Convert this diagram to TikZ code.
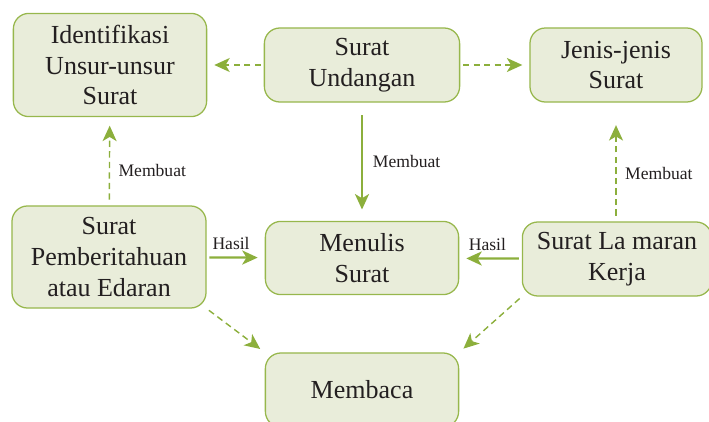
\documentclass[tikz,border=0pt]{standalone}
\usepackage{fontspec}
\setmainfont{Liberation Serif}
\usepackage{tikz}
\usetikzlibrary{positioning,arrows.meta}

\definecolor{boxfill}{HTML}{E9EDDA}
\definecolor{boxline}{HTML}{97B74C}
\definecolor{arrowgreen}{HTML}{8CAF3C}
\definecolor{textgray}{HTML}{231F20}

\begin{document}
\begin{tikzpicture}[x=0.025cm,y=-0.025cm,>={Stealth[length=11pt,width=10pt,inset=3pt]},
	boxnode/.style={rectangle,rounded corners=11pt,draw=boxline,fill=boxfill,line width=0.9pt,align=center,text=textgray,inner sep=2pt,font=\fontsize{18.5}{22}\selectfont},
	solidarrow/.style={->,draw=arrowgreen,line width=1.6pt,shorten >=5pt,shorten <=2pt},
	dasharrow/.style={->,draw=arrowgreen,line width=1pt,dashed,dash pattern=on 4.5pt off 3pt,shorten >=5pt,shorten <=2pt},
	labelnode/.style={text=textgray,font=\fontsize{12.5}{14}\selectfont,inner sep=2pt}]
	
	\useasboundingbox (0,0) rectangle (709,421);
	
	\node [boxnode,minimum width=4.83cm,minimum height=2.58cm] (ident) at (110, 65) {Identifikasi\\Unsur-unsur\\Surat};
	\node [boxnode,minimum width=4.88cm,minimum height=1.85cm] (und) at (362, 65) {Surat\\Undangan};
	\node [boxnode,minimum width=4.3cm,minimum height=1.85cm] (jen) at (616, 65) {Jenis-jenis\\Surat};
	\node [boxnode,minimum width=4.85cm,minimum height=2.55cm] (pem) at (109, 257) {Surat\\Pemberitahuan\\atau Edaran};
	\node [boxnode,minimum width=4.83cm,minimum height=1.83cm] (menu) at (362, 258) {Menulis\\Surat};
	\node [boxnode,minimum width=4.73cm,minimum height=1.85cm] (lam) at (617, 259) {Surat La maran\\Kerja};
	\node [boxnode,minimum width=4.83cm,minimum height=1.85cm] (baca) at (362, 390) {Membaca};
	
	\draw [dasharrow] (und) to (ident);
	\draw [dasharrow] (und) to (jen);
	\draw [solidarrow,shorten <=9pt,shorten >=8pt] (und) to node [labelnode,right=5pt] {Membuat} (menu);
	\draw [dasharrow,shorten <=4pt,shorten >=6pt] (pem) to node [labelnode,right=4pt,pos=0.4] {Membuat} (ident);
	\draw [dasharrow,shorten <=4pt,shorten >=16pt] (lam.north -| jen.south) to node [labelnode,right=4pt,pos=0.4] {Membuat} (jen.south);
	\draw [solidarrow] (pem) to node [labelnode,above=3pt,pos=0.42] {Hasil} (menu);
	\draw [solidarrow] (lam) to node [labelnode,above=3pt,pos=0.55] {Hasil} (menu);
	\draw [dasharrow,shorten <=2pt,shorten >=4pt] (pem.south east) to (baca.north west);
	\draw [dasharrow,shorten <=2pt,shorten >=4pt] (lam.south west) to (baca.north east);
\end{tikzpicture}
\end{document}
